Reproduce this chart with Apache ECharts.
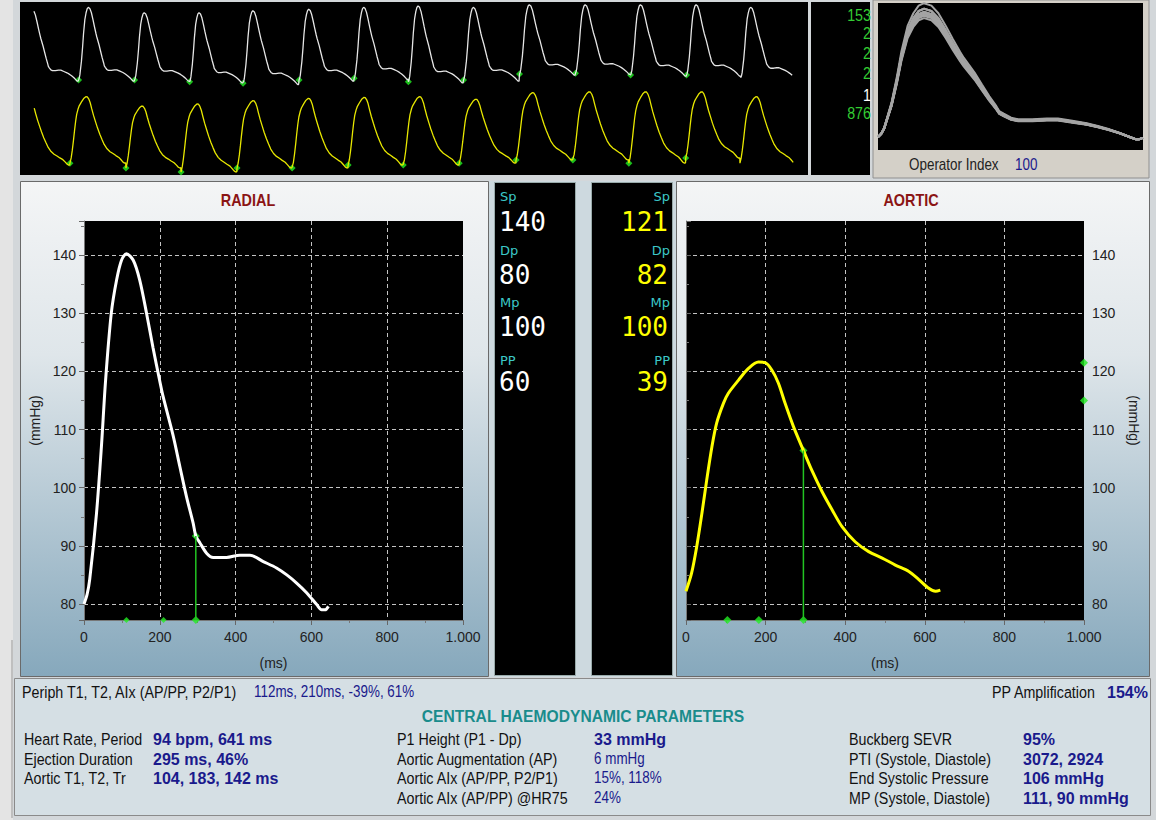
<!DOCTYPE html>
<html>
<head>
<meta charset="utf-8">
<script src="https://cdn.jsdelivr.net/npm/echarts@6/dist/echarts.min.js"></script>
<style>
html, body { margin: 0; padding: 0; background: #d3d7da; }
#main { width: 1156px; height: 820px; }
</style>
</head>
<body>
<div id="main"></div>
<script>
// averaged radial pulse, time in ms and pressure in mmHg
var radialT = [0, 8, 15, 33, 46, 57, 72, 86, 99, 112, 130, 147, 165, 182, 200, 209, 235, 253, 271, 288, 295, 306, 324, 341, 376, 411, 438, 473, 508, 535, 561, 588, 614, 627, 636, 645];
var radialP = [80.0, 81.6, 84.2, 95.6, 107.1, 118.5, 130.0, 135.7, 139.1, 140.2, 139.1, 135.7, 130.0, 124.1, 118.3, 115.6, 109.0, 103.6, 98.3, 93.9, 91.7, 90.5, 88.7, 88.0, 88.0, 88.4, 88.4, 87.3, 86.2, 85.0, 83.6, 81.9, 79.9, 79.0, 79.0, 79.6];

// derived aortic pulse
var aorticT = [0, 14, 27, 40, 52, 65, 77, 94, 106, 132, 157, 182, 199, 216, 232, 249, 270, 295, 316, 342, 367, 392, 425, 459, 493, 526, 560, 585, 610, 627, 639];
var aorticP = [82.2, 85.3, 89.9, 95.6, 101.3, 107.0, 111.1, 114.5, 116.2, 118.5, 120.5, 121.6, 121.5, 120.2, 118.0, 114.5, 110.5, 106.4, 103.0, 99.3, 96.2, 93.3, 90.7, 89.0, 87.9, 86.7, 85.6, 84.2, 82.7, 82.2, 82.4];

// markers (ms) and end systolic points
var radialMarkT = [112, 210];
var aorticMarkT = [104, 183];
var esT = 295;
var radialEsP = 91.7;
var aorticEsP = 106.4;
var aorticSideP = [121.5, 115];

// top strip: beat foot times (s), foot and peak levels per beat (first = partial beat)
var whiteFootT = [0.03, 0.68, 1.33, 1.97, 2.59, 3.24, 3.88, 4.51, 5.15, 5.80, 6.45, 7.09, 7.74, 8.37, 9.02];
var whiteFootV = [80, 80, 80, 78.6, 77.3, 80, 81.4, 78.6, 80, 84.9, 85.5, 84.1, 84.1, 82];
var whitePeakV = [137.5, 139.6, 135.2, 135.2, 136.8, 138.0, 139.6, 140.7, 139.6, 141.7, 141.7, 141.7, 141.7, 139.6];
var yellowFootT = [-0.07, 0.58, 1.23, 1.87, 2.52, 3.16, 3.81, 4.45, 5.10, 5.76, 6.42, 7.07, 7.73, 8.36, 9.01];
var yellowFootV = [82, 83.1, 80.3, 78.0, 80.3, 80.3, 82, 82, 83.1, 84.9, 84.9, 83.1, 86.0, 83.1];
var yellowPeakV = [118, 121.3, 115.9, 117.1, 119.0, 120.3, 120.9, 121.3, 119.8, 123.6, 124.1, 124.1, 124.1, 121.3];
var stripStart = 0.158, stripEnd = 8.99;

// numbers
var pLabels = ['Sp', 'Dp', 'Mp', 'PP'];
var radialNums = ['140', '80', '100', '60'];
var aorticNums = ['121', '82', '100', '39'];
var qualityNums = ['153', '2', '2', '2', '1', '876'];
var qualityCols = ['#33cc33', '#33cc33', '#33cc33', '#33cc33', '#ffffff', '#33cc33'];

var col1Labels = ['Heart Rate, Period', 'Ejection Duration', 'Aortic T1, T2, Tr'];
var col1Values = ['94 bpm, 641 ms', '295 ms, 46%', '104, 183, 142 ms'];
var col2Labels = ['P1 Height (P1 - Dp)', 'Aortic Augmentation (AP)', 'Aortic AIx (AP/PP, P2/P1)', 'Aortic AIx (AP/PP) @HR75'];
var col2Values = ['33 mmHg', '6 mmHg', '15%, 118%', '24%'];
var col2Bold = [true, false, false, false];
var col3Labels = ['Buckberg SEVR', 'PTI (Systole, Diastole)', 'End Systolic Pressure', 'MP (Systole, Diastole)'];
var col3Values = ['95%', '3072, 2924', '106 mmHg', '111, 90 mmHg'];

var Y_MIN = 77.25, Y_MAX = 145.85;
var BEAT_MS = 641;
var SANS = "'Liberation Sans', Arial, sans-serif";
var NAVY = '#1a1a8c';
var GREEN = '#22ee22';
var NARROW_X = 0.84;

var chart = echarts.init(document.getElementById('main'), null, { renderer: 'svg' });

function beatPoints(footT, footV, peakV, tplT, tplP, t0, t1) {
  var base = tplP[0], top = Math.max.apply(null, tplP);
  var pts = [];
  for (var i = 0; i < footV.length; i++) {
    var per = footT[i + 1] - footT[i];
    var k = (peakV[i] - footV[i]) / (top - base);
    for (var j = 0; j < tplT.length; j++) {
      if (tplT[j] > BEAT_MS) continue;
      var t = footT[i] + tplT[j] / BEAT_MS * per;
      if (t < t0 || t > t1) continue;
      pts.push([t, footV[i] + (tplP[j] - base) * k]);
    }
  }
  return pts;
}

function footDots(footT, footV) {
  var d = [];
  for (var i = 1; i < footV.length - 1; i++) d.push([footT[i], footV[i]]);
  return d;
}

// overlay of the radial beats, each aligned on its foot
var overlaySeries = [];
var rTop = Math.max.apply(null, radialP);
for (var b = 1; b < whiteFootV.length; b++) {
  var k = (whitePeakV[b] - whiteFootV[b]) / (rTop - radialP[0]);
  overlaySeries.push({
    type: 'line', xAxisIndex: 4, yAxisIndex: 4, symbol: 'none', silent: true,
    lineStyle: { color: '#a4a4a4', width: 2 },
    data: radialT.map(function (t, j) { return [t, radialP[0] + (radialP[j] - radialP[0]) * k]; })
  });
}

function mainX(grid) {
  return {
    type: 'value', gridIndex: grid, min: 0, max: 1000, interval: 200,
    name: '(ms)', nameLocation: 'middle', nameGap: 36,
    nameTextStyle: { color: '#222', fontSize: 14, fontFamily: SANS },
    axisLine: { lineStyle: { color: '#777' } },
    axisTick: { length: 5, lineStyle: { color: '#666' } },
    minorTick: { show: true, splitNumber: 2, length: 3, lineStyle: { color: '#777' } },
    axisLabel: { color: '#222', fontSize: 14, fontFamily: SANS, margin: 10,
      formatter: function (v) { return v === 1000 ? '1.000' : String(v); } },
    splitLine: { show: true, showMinLine: false, showMaxLine: false,
      lineStyle: { color: '#c4c4c4', type: [4, 3], width: 1 } }
  };
}

function mainY(grid, pos) {
  return {
    type: 'value', gridIndex: grid, position: pos, min: Y_MIN, max: Y_MAX, splitNumber: 7,
    name: '(mmHg)', nameLocation: 'middle', nameGap: pos === 'left' ? 42 : 43,
    nameRotate: pos === 'left' ? 90 : -90,
    nameTextStyle: { color: '#222', fontSize: 14, fontFamily: SANS },
    axisLine: { show: true, lineStyle: { color: '#777' } },
    axisTick: { show: true, length: 5, lineStyle: { color: '#666' } },
    minorTick: { show: true, splitNumber: 2, length: 3, lineStyle: { color: '#777' } },
    axisLabel: { color: '#222', fontSize: 14, fontFamily: SANS, margin: 8,
      showMinLabel: false, showMaxLabel: false },
    splitLine: { show: true, showMinLine: false, showMaxLine: false,
      lineStyle: { color: '#c4c4c4', type: [4, 3], width: 1 } }
  };
}

function hiddenAxis(grid, min, max) {
  return { type: 'value', gridIndex: grid, min: min, max: max, show: false, splitLine: { show: false } };
}

function rect(x, y, w, h, fill, stroke) {
  return { type: 'rect', z: -10, silent: true, shape: { x: x, y: y, width: w, height: h },
    style: { fill: fill, stroke: stroke || null, lineWidth: 1 } };
}

function txt(x, y, s, font, fill, align, sx) {
  return { type: 'text', z: 10, silent: true, x: x, y: y, scaleX: sx || 1,
    style: { text: s, font: font, fill: fill, align: align || 'left', verticalAlign: 'middle',
      textAlign: align || 'left', textVerticalAlign: 'middle' } };
}

var panelGrad = { type: 'linear', x: 0, y: 0, x2: 0, y2: 1,
  colorStops: [{ offset: 0, color: '#f4f5f6' }, { offset: 0.35, color: '#dfe6ea' }, { offset: 1, color: '#86a8bc' }] };

var graphics = [
  rect(0, 0, 1156, 820, '#d3d7da'),
  rect(0, 0, 13, 820, '#e4e4e4'),
  rect(11.5, 640, 1, 178, '#9a9a9a'),
  rect(20, 2, 788, 173, '#000'),
  rect(811, 2, 59, 173, '#000'),
  rect(873, 0, 276, 178, '#d4d0c8', '#909090'),
  rect(878, 3, 265, 147, '#000'),
  rect(20.5, 181.5, 468, 495, panelGrad, '#6a6a6a'),
  rect(676.5, 181.5, 473, 495, panelGrad, '#6a6a6a'),
  rect(489, 181, 187, 496, '#cdd9df'),
  rect(494.5, 182.5, 81, 493, '#000', '#9aa'),
  rect(591.5, 182.5, 81, 493, '#000', '#9aa'),
  rect(84, 221, 379, 399, '#000'),
  rect(686, 221, 398, 399, '#000'),
  rect(14.5, 678.5, 1136, 137, '#d5dfe4', '#8a8a8a'),
  txt(248, 200, 'RADIAL', 'bold 16px ' + SANS, '#8b1414', 'center', 0.9),
  txt(911, 200, 'AORTIC', 'bold 16px ' + SANS, '#8b1414', 'center', 0.9),
  txt(909, 165, 'Operator Index', '16px ' + SANS, '#222', 'left', NARROW_X),
  txt(1015, 165, '100', '16px ' + SANS, NAVY, 'left', NARROW_X)
];

var labelY = [196, 250, 302, 360];
var numY = [222, 275, 327, 382];
pLabels.forEach(function (l, i) {
  graphics.push(txt(500, labelY[i], l, "13px 'DejaVu Sans'", '#3cc8c8'));
  graphics.push(txt(499, numY[i], radialNums[i], "26px 'DejaVu Sans Mono'", '#ffffff'));
  graphics.push(txt(670, labelY[i], l, "13px 'DejaVu Sans'", '#3cc8c8', 'right'));
  graphics.push(txt(668, numY[i], aorticNums[i], "26px 'DejaVu Sans Mono'", '#ffff00', 'right'));
});

var qualY = [15, 33, 53, 73, 95, 113];
qualityNums.forEach(function (s, i) {
  graphics.push(txt(871, qualY[i], s, '17px ' + SANS, qualityCols[i], 'right', NARROW_X));
});

graphics.push(txt(22, 692, 'Periph T1, T2, AIx (AP/PP, P2/P1)', '17px ' + SANS, '#111', 'left', NARROW_X));
graphics.push(txt(254, 692, '112ms, 210ms, -39%, 61%', '16px ' + SANS, NAVY, 'left', NARROW_X));
graphics.push(txt(992, 692, 'PP Amplification', '17px ' + SANS, '#111', 'left', NARROW_X));
graphics.push(txt(1107, 692, '154%', 'bold 16px ' + SANS, NAVY));
graphics.push(txt(583, 716, 'CENTRAL HAEMODYNAMIC PARAMETERS', 'bold 17px ' + SANS, '#1a8c8c', 'center', 0.92));

var rowY = [739, 759, 778, 798];
col1Labels.forEach(function (s, i) {
  graphics.push(txt(24, rowY[i], s, '17px ' + SANS, '#111', 'left', NARROW_X));
  graphics.push(txt(153, rowY[i], col1Values[i], 'bold 16px ' + SANS, NAVY));
});
col2Labels.forEach(function (s, i) {
  graphics.push(txt(397, rowY[i], s, '17px ' + SANS, '#111', 'left', NARROW_X));
  graphics.push(col2Bold[i]
    ? txt(594, rowY[i], col2Values[i], 'bold 16px ' + SANS, NAVY)
    : txt(594, rowY[i], col2Values[i], '16px ' + SANS, NAVY, 'left', NARROW_X));
});
col3Labels.forEach(function (s, i) {
  graphics.push(txt(849, rowY[i], s, '17px ' + SANS, '#111', 'left', NARROW_X));
  graphics.push(txt(1023, rowY[i], col3Values[i], 'bold 16px ' + SANS, NAVY));
});

var option = {
  animation: false,
  backgroundColor: '#d3d7da',
  graphic: { elements: graphics },
  grid: [
    { left: 84, top: 221, width: 379, height: 399 },
    { left: 686, top: 221, width: 398, height: 399 },
    { left: 20, top: 0, width: 788, height: 100 },
    { left: 20, top: 80, width: 788, height: 95 },
    { left: 878, top: 3, width: 265, height: 147 }
  ],
  xAxis: [mainX(0), mainX(1), hiddenAxis(2, 0, 9.15), hiddenAxis(3, 0, 9.15), hiddenAxis(4, 0, 645)],
  yAxis: [mainY(0, 'left'), mainY(1, 'right'), hiddenAxis(2, 63.6, 145.6), hiddenAxis(3, 76.3, 130.9), hiddenAxis(4, 74, 142.2)],
  series: [
    { type: 'line', xAxisIndex: 0, yAxisIndex: 0, symbol: 'none', smooth: 0.3,
      lineStyle: { color: '#ffffff', width: 3 },
      data: radialT.map(function (t, i) { return [t, radialP[i]]; }) },
    { type: 'line', xAxisIndex: 0, yAxisIndex: 0, symbol: 'none',
      lineStyle: { color: '#22c422', width: 1.5 },
      data: [[esT, Y_MIN], [esT, radialEsP]] },
    { type: 'scatter', xAxisIndex: 0, yAxisIndex: 0, symbol: 'diamond', clip: false,
      itemStyle: { color: GREEN },
      symbolSize: function (v) { return v[0] === esT ? 8 : 6; },
      data: radialMarkT.map(function (t) { return [t, Y_MIN]; }).concat([[esT, Y_MIN], [esT, radialEsP]]) },
    { type: 'line', xAxisIndex: 1, yAxisIndex: 1, symbol: 'none', smooth: 0.3,
      lineStyle: { color: '#ffff00', width: 3 },
      data: aorticT.map(function (t, i) { return [t, aorticP[i]]; }) },
    { type: 'line', xAxisIndex: 1, yAxisIndex: 1, symbol: 'none',
      lineStyle: { color: '#22c422', width: 1.5 },
      data: [[esT, Y_MIN], [esT, aorticEsP]] },
    { type: 'scatter', xAxisIndex: 1, yAxisIndex: 1, symbol: 'diamond', clip: false, symbolSize: 8,
      itemStyle: { color: GREEN },
      data: aorticMarkT.map(function (t) { return [t, Y_MIN]; })
        .concat([[esT, Y_MIN], [esT, aorticEsP]])
        .concat(aorticSideP.map(function (p) { return [1000, p]; })) },
    { type: 'line', xAxisIndex: 2, yAxisIndex: 2, symbol: 'none',
      lineStyle: { color: '#e6e6e6', width: 1.3 },
      data: beatPoints(whiteFootT, whiteFootV, whitePeakV, radialT, radialP, stripStart, stripEnd) },
    { type: 'scatter', xAxisIndex: 2, yAxisIndex: 2, symbol: 'diamond', symbolSize: 7,
      itemStyle: { color: GREEN }, data: footDots(whiteFootT, whiteFootV) },
    { type: 'line', xAxisIndex: 3, yAxisIndex: 3, symbol: 'none',
      lineStyle: { color: '#e8e800', width: 1.3 },
      data: beatPoints(yellowFootT, yellowFootV, yellowPeakV, aorticT, aorticP, stripStart, stripEnd) },
    { type: 'scatter', xAxisIndex: 3, yAxisIndex: 3, symbol: 'diamond', symbolSize: 7,
      itemStyle: { color: GREEN }, data: footDots(yellowFootT, yellowFootV) }
  ].concat(overlaySeries)
};

chart.setOption(option);
</script>
</body>
</html>
